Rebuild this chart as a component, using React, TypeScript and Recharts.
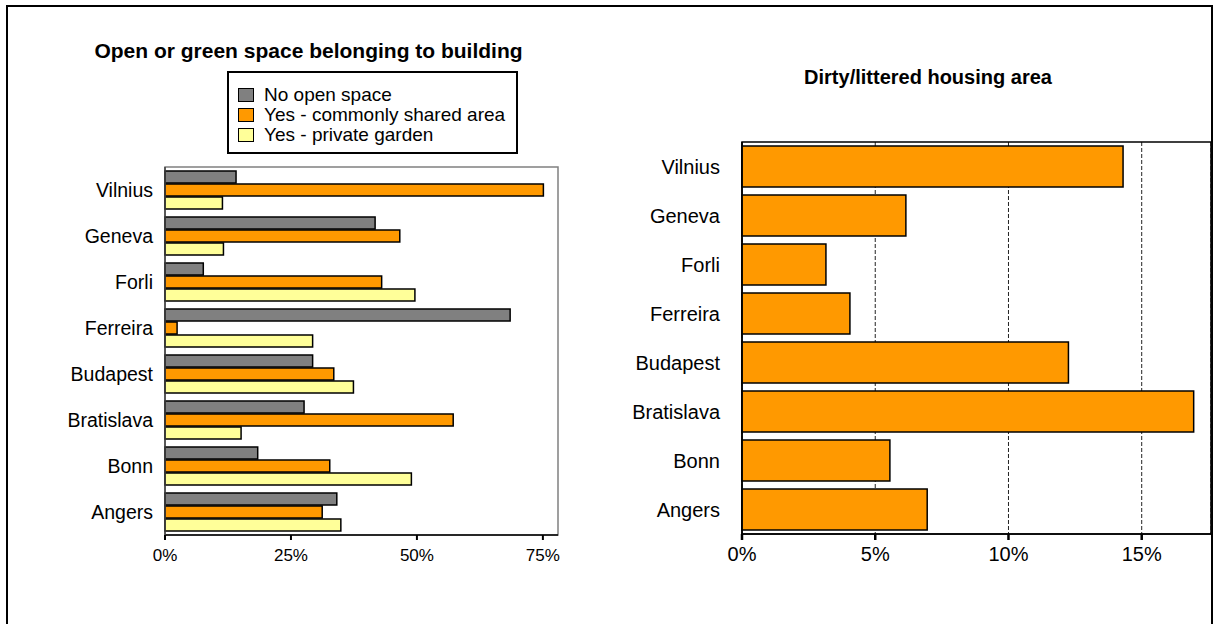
import React from 'react';
import { BarChart, Bar, XAxis, YAxis, CartesianGrid, Legend, ReferenceArea } from 'recharts';

// Survey results per city (percent of respondents)
const cities = ['Vilnius', 'Geneva', 'Forli', 'Ferreira', 'Budapest', 'Bratislava', 'Bonn', 'Angers'];
const noOpenSpace = [14.1, 41.7, 7.6, 68.5, 29.3, 27.6, 18.4, 34.1];
const commonArea = [75.1, 46.6, 43.0, 2.4, 33.5, 57.2, 32.7, 31.2];
const privateGarden = [11.4, 11.6, 49.6, 29.3, 37.4, 15.1, 48.9, 34.9];
const dirtyArea = [14.3, 6.15, 3.15, 4.05, 12.25, 16.95, 5.55, 6.95];

const openTicks = [0, 25, 50, 75];
const dirtyTicks = [0, 5, 10, 15];

const FONT = '"Liberation Sans", Arial, sans-serif';

const openData = cities.map((city, i) => ({
  city,
  none: noOpenSpace[i],
  common: commonArea[i],
  garden: privateGarden[i],
}));

const dirtyData = cities.map((city, i) => ({ city, dirty: dirtyArea[i] }));

const pct = (v: number) => `${v}%`;

function BoxLegend({ payload }: any) {
  return (
    <div
      style={{
        width: 291,
        height: 83,
        boxSizing: 'border-box',
        border: '2px solid #000',
        padding: '12px 0 0 9px',
        fontFamily: FONT,
        fontSize: 19,
        lineHeight: '20px',
        background: '#fff',
      }}
    >
      {(payload || []).map((entry: any) => (
        <div key={entry.value} style={{ display: 'flex', alignItems: 'center', height: 20 }}>
          <span
            style={{
              display: 'inline-block',
              width: 16,
              height: 14,
              boxSizing: 'border-box',
              border: '1.5px solid #000',
              background: entry.color,
              marginRight: 10,
            }}
          />
          <span>{entry.value}</span>
        </div>
      ))}
    </div>
  );
}

export default function App() {
  return (
    <div style={{ position: 'absolute', left: 0, top: 0, width: 1213, height: 624, background: '#fff', overflow: 'hidden', fontFamily: FONT }}>
      {/* outer frame */}
      <div
        style={{
          position: 'absolute',
          left: 6,
          top: 5,
          width: 1203,
          height: 700,
          borderLeft: '2px solid #000',
          borderTop: '2px solid #000',
          borderRight: '2px solid #000',
        }}
      />

      <div style={{ position: 'absolute', left: 0, top: 39, width: 617, textAlign: 'center', fontWeight: 'bold', fontSize: 21 }}>
        Open or green space belonging to building
      </div>
      <div style={{ position: 'absolute', left: 628, top: 66, width: 600, textAlign: 'center', fontWeight: 'bold', fontSize: 20 }}>
        Dirty/littered housing area
      </div>

      <div style={{ position: 'absolute', left: 0, top: 0 }}>
        <BarChart
          width={600}
          height={600}
          data={openData}
          layout="vertical"
          margin={{ top: 167, right: 42, bottom: 35, left: 0 }}
          barCategoryGap={4}
          barGap={1}
        >
          <ReferenceArea x1={0} x2={78} fill="none" stroke="#808080" strokeWidth={1.5} ifOverflow="visible" />
          <XAxis
            type="number"
            domain={[0, 78]}
            ticks={openTicks}
            tickFormatter={pct}
            height={30}
            axisLine={{ stroke: '#000', strokeWidth: 1.5 }}
            tickLine={{ stroke: '#000', strokeWidth: 2 }}
            tickSize={5}
            tickMargin={9}
            tick={{ fill: '#000', fontSize: 17, fontFamily: FONT }}
          />
          <YAxis
            type="category"
            dataKey="city"
            width={165}
            axisLine={{ stroke: '#404040', strokeWidth: 1.5 }}
            tickLine={false}
            tickSize={0}
            tickMargin={12}
            tick={{ fill: '#000', fontSize: 19.5, fontFamily: FONT }}
          />
          <Legend
            layout="vertical"
            align="center"
            verticalAlign="middle"
            content={<BoxLegend />}
            wrapperStyle={{ left: 227, top: 71, width: 291, height: 83 }}
          />
          <Bar dataKey="none" name="No open space" fill="#808080" stroke="#000" strokeWidth={1.5} isAnimationActive={false} />
          <Bar dataKey="common" name="Yes - commonly shared area" fill="#FF9900" stroke="#000" strokeWidth={1.5} isAnimationActive={false} />
          <Bar dataKey="garden" name="Yes - private garden" fill="#FFFF99" stroke="#000" strokeWidth={1.5} isAnimationActive={false} />
        </BarChart>
      </div>

      <div style={{ position: 'absolute', left: 600, top: 0 }}>
        <BarChart
          width={613}
          height={600}
          data={dirtyData}
          layout="vertical"
          margin={{ top: 142, right: 2, bottom: 36, left: 0 }}
          barCategoryGap={4}
        >
          <CartesianGrid horizontal={false} stroke="#222" strokeDasharray="4 2" />
          <ReferenceArea x1={0} x2={17.6} fill="none" stroke="#000" strokeWidth={1.5} ifOverflow="visible" />
          <XAxis
            type="number"
            domain={[0, 17.6]}
            ticks={dirtyTicks}
            tickFormatter={pct}
            height={30}
            axisLine={{ stroke: '#000', strokeWidth: 1.5 }}
            tickLine={{ stroke: '#000', strokeWidth: 2.5 }}
            tickSize={6}
            tickMargin={7}
            tick={{ fill: '#000', fontSize: 20, fontFamily: FONT }}
          />
          <YAxis
            type="category"
            dataKey="city"
            width={142}
            axisLine={{ stroke: '#000', strokeWidth: 1.5 }}
            tickLine={false}
            tickSize={0}
            tickMargin={22}
            tick={{ fill: '#000', fontSize: 20, fontFamily: FONT }}
          />
          <Bar dataKey="dirty" fill="#FF9900" stroke="#000" strokeWidth={1.5} isAnimationActive={false} />
        </BarChart>
      </div>
    </div>
  );
}
